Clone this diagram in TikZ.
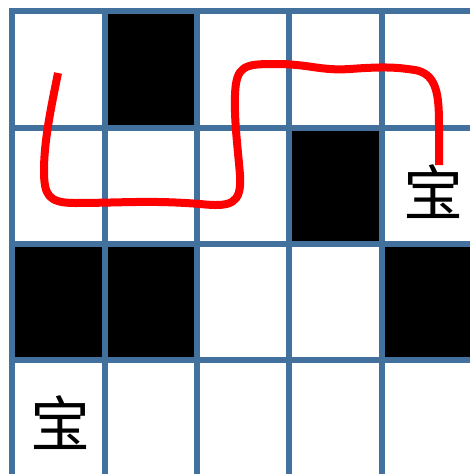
\documentclass[tikz,border=0pt]{standalone}
\usepackage{fontspec}
\newfontfamily\cjkfont{Noto Sans CJK SC}
\definecolor{gridblue}{RGB}{65,113,156}
\definecolor{pathred}{RGB}{255,0,0}
\tikzset{
  gridline/.style={draw=gridblue, line width=6pt},
  wall/.style={fill=black},
  treasure/.style={font=\cjkfont\fontsize{60}{60}\selectfont, inner sep=0pt},
  route/.style={draw=pathred, line width=8pt, line cap=butt, line join=round}
}
\begin{document}
\begin{tikzpicture}[x=1pt,y=-1pt]
\useasboundingbox (0,0) rectangle (470,474);
\clip (0,0) rectangle (470,474);
\fill[white] (0,0) rectangle (470,474);
% walls
\fill[wall] (104.5,11) rectangle (197,127.5);
\fill[wall] (289,127.5) rectangle (381.5,244);
\fill[wall] (12,244) rectangle (104.5,360);
\fill[wall] (104.5,244) rectangle (197,360);
\fill[wall] (381.5,244) rectangle (480,360);
% grid
\foreach \x in {12,104.5,197,289,381.5} {
  \draw[gridline] (\x,8) -- (\x,480);
}
\foreach \y in {11,127.5,244,360} {
  \draw[gridline] (9,\y) -- (480,\y);
}
% treasures
\node[treasure] (t1) at (433,192) {宝};
\node[treasure] (t2) at (60,423) {宝};
% route
\draw[route] (58,73) .. controls (52,103) and (44,140) .. (44,170)
  .. controls (44,195) and (48,203) .. (75,203)
  .. controls (120,203) and (150,200) .. (200,204)
  .. controls (230,207) and (242,205) .. (240,175)
  .. controls (238,150) and (234,120) .. (235,95)
  .. controls (236,65) and (245,64) .. (275,64)
  .. controls (310,64) and (320,71) .. (350,69)
  .. controls (390,66) and (400,68) .. (415,70)
  .. controls (437,74) and (439,95) .. (439,125)
  -- (439,165);
\end{tikzpicture}
\end{document}
